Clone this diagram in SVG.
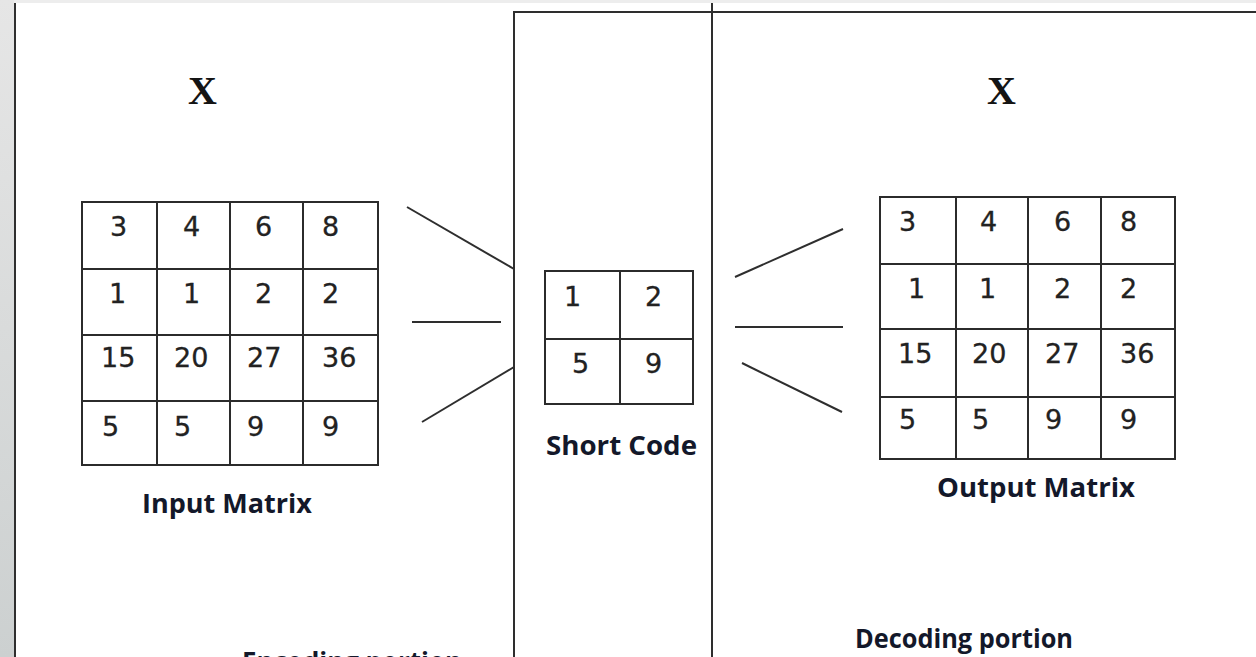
<svg xmlns="http://www.w3.org/2000/svg" width="1256" height="657" viewBox="0 0 1256 657">
  <style>
    .grid { fill: #ffffff; stroke: #2b2b2b; stroke-width: 2; }
    .rule { stroke: #2b2b2b; stroke-width: 2; fill: none; }
    .frame { stroke: #2e2e2e; stroke-width: 2; fill: none; }
    .link { stroke: #2e2e2e; stroke-width: 2; fill: none; }
    .num { font-family: "DejaVu Sans", sans-serif; font-size: 27px; fill: #222222; stroke: #222222; stroke-width: 0.3; }
    .label { font-family: "Open Sans", "Liberation Sans", sans-serif; font-weight: 700; font-size: 27px; fill: #13182a; }
    .var { font-family: "Liberation Serif", serif; font-weight: 700; font-size: 40px; fill: #141414; }
  </style>
  <defs>
    <linearGradient id="sideShade" x1="0" y1="0" x2="0" y2="1">
      <stop offset="0" stop-color="#e6e6e6"/>
      <stop offset="1" stop-color="#ccd0d0"/>
    </linearGradient>
  </defs>

  <!-- page background with window edges -->
  <g id="page">
    <rect x="0" y="0" width="1256" height="657" fill="#ffffff"/>
    <rect x="0" y="0" width="1256" height="3" fill="#ededed"/>
    <rect x="0" y="0" width="14" height="657" fill="url(#sideShade)"/>
    <line x1="15" y1="3" x2="15" y2="657" stroke="#2f2f2f" stroke-width="2"/>
  </g>

  <!-- section frame: encoding / short code / decoding -->
  <g id="sections">
    <polyline class="frame" points="514,657 514,12 1256,12"/>
    <line class="frame" x1="712" y1="3" x2="712" y2="657"/>
  </g>

  <!-- variable labels -->
  <g id="varLeft"><text class="var" x="188" y="104">X</text></g>
  <g id="varRight"><text class="var" x="987" y="104">X</text></g>

  <!-- 4x4 input matrix -->
  <g id="inputMatrix">
    <rect class="grid" x="82" y="202" width="296" height="263"/>
    <line class="rule" x1="157" y1="202" x2="157" y2="465"/>
    <line class="rule" x1="230" y1="202" x2="230" y2="465"/>
    <line class="rule" x1="303" y1="202" x2="303" y2="465"/>
    <line class="rule" x1="82" y1="269" x2="378" y2="269"/>
    <line class="rule" x1="82" y1="335" x2="378" y2="335"/>
    <line class="rule" x1="82" y1="401" x2="378" y2="401"/>
    <text class="num" x="110" y="236">3</text>
    <text class="num" x="183" y="236">4</text>
    <text class="num" x="255" y="236">6</text>
    <text class="num" x="322" y="236">8</text>
    <text class="num" x="109" y="303">1</text>
    <text class="num" x="183" y="303">1</text>
    <text class="num" x="255" y="303">2</text>
    <text class="num" x="322" y="303">2</text>
    <text class="num" x="101" y="367">15</text>
    <text class="num" x="174" y="367">20</text>
    <text class="num" x="247" y="367">27</text>
    <text class="num" x="322" y="367">36</text>
    <text class="num" x="102" y="436">5</text>
    <text class="num" x="174" y="436">5</text>
    <text class="num" x="247" y="436">9</text>
    <text class="num" x="322" y="436">9</text>
    <text class="label" x="142" y="513" textLength="170" lengthAdjust="spacingAndGlyphs">Input Matrix</text>
  </g>

  <!-- 2x2 short code -->
  <g id="shortCode">
    <rect class="grid" x="545" y="271" width="148" height="133"/>
    <line class="rule" x1="620" y1="271" x2="620" y2="404"/>
    <line class="rule" x1="545" y1="339" x2="693" y2="339"/>
    <text class="num" x="564" y="306">1</text>
    <text class="num" x="645" y="306">2</text>
    <text class="num" x="572" y="373">5</text>
    <text class="num" x="645" y="373">9</text>
    <text class="label" x="546" y="455" textLength="151" lengthAdjust="spacingAndGlyphs">Short Code</text>
  </g>

  <!-- 4x4 output matrix -->
  <g id="outputMatrix">
    <rect class="grid" x="880" y="197" width="295" height="262"/>
    <line class="rule" x1="956" y1="197" x2="956" y2="459"/>
    <line class="rule" x1="1028" y1="197" x2="1028" y2="459"/>
    <line class="rule" x1="1101" y1="197" x2="1101" y2="459"/>
    <line class="rule" x1="880" y1="264" x2="1175" y2="264"/>
    <line class="rule" x1="880" y1="329" x2="1175" y2="329"/>
    <line class="rule" x1="880" y1="397" x2="1175" y2="397"/>
    <text class="num" x="899" y="231">3</text>
    <text class="num" x="980" y="231">4</text>
    <text class="num" x="1054" y="231">6</text>
    <text class="num" x="1120" y="231">8</text>
    <text class="num" x="908" y="298">1</text>
    <text class="num" x="979" y="298">1</text>
    <text class="num" x="1054" y="298">2</text>
    <text class="num" x="1120" y="298">2</text>
    <text class="num" x="898" y="363">15</text>
    <text class="num" x="972" y="363">20</text>
    <text class="num" x="1045" y="363">27</text>
    <text class="num" x="1120" y="363">36</text>
    <text class="num" x="899" y="429">5</text>
    <text class="num" x="972" y="429">5</text>
    <text class="num" x="1045" y="429">9</text>
    <text class="num" x="1120" y="429">9</text>
    <text class="label" x="937" y="497" textLength="198" lengthAdjust="spacingAndGlyphs">Output Matrix</text>
  </g>

  <!-- section captions; the encoding caption runs past the lower edge -->
  <g id="encodingCaption">
    <text class="label" x="242" y="671" textLength="220" lengthAdjust="spacingAndGlyphs">Encoding portion</text>
  </g>
  <g id="decodingCaption">
    <text class="label" x="855" y="648" textLength="218" lengthAdjust="spacingAndGlyphs">Decoding portion</text>
  </g>

  <!-- fan lines between the matrices and the short code -->
  <g id="connectors">
    <line class="link" x1="407" y1="207" x2="514" y2="269"/>
    <line class="link" x1="412" y1="322" x2="501" y2="322"/>
    <line class="link" x1="422" y1="422" x2="514" y2="367"/>
    <line class="link" x1="735" y1="277" x2="843" y2="229"/>
    <line class="link" x1="735" y1="327" x2="843" y2="327"/>
    <line class="link" x1="742" y1="363" x2="842" y2="412"/>
  </g>
</svg>
